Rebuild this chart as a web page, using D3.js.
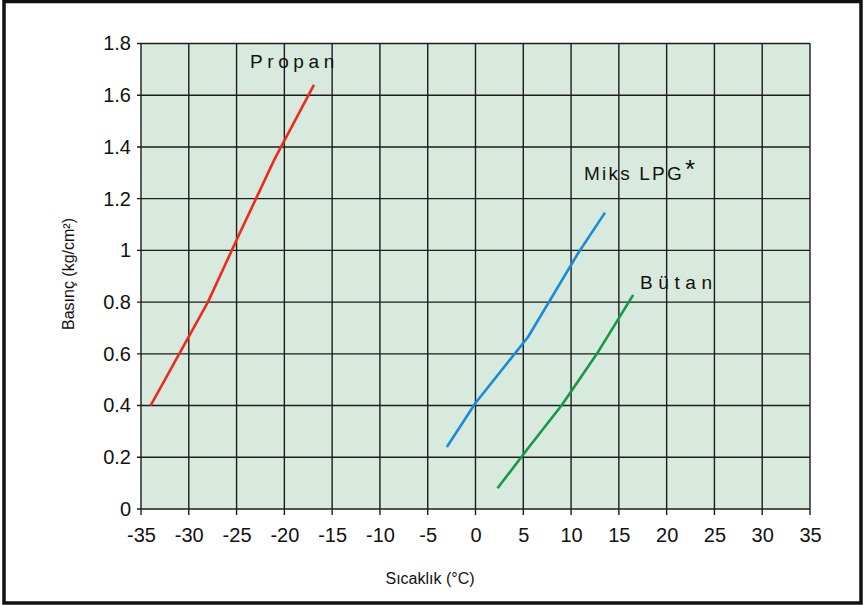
<!DOCTYPE html>
<html>
<head>
<meta charset="utf-8">
<script src="https://cdn.jsdelivr.net/npm/d3@7"></script>
<style>
  body { margin: 0; background: #fff; }
  text { font-family: "Liberation Sans", Arial, sans-serif; fill: #111; }
</style>
</head>
<body>
<script>
var width = 864,
    height = 605,
    margin = {top: 43.5, right: 54, bottom: 96, left: 141};

// tick values
var xTicks = [-35, -30, -25, -20, -15, -10, -5, 0, 5, 10, 15, 20, 25, 30, 35];
var yTicks = [0, 0.2, 0.4, 0.6, 0.8, 1, 1.2, 1.4, 1.6, 1.8];

// series (temperature °C, pressure kg/cm2)
var propan = [[-34, 0.40], [-28, 0.80], [-25, 1.04], [-21, 1.355], [-16.9, 1.64]];
var miksLpg = [[-3, 0.24], [0, 0.41], [5.5, 0.665], [10.75, 0.99], [13.55, 1.146]];
var butan = [[2.3, 0.08], [5.5, 0.235], [9, 0.40], [12.7, 0.60], [16.5, 0.828]];

var svg = d3.select('body')
    .append('svg')
    .attr('width', width)
    .attr('height', height)

// outer frame
svg.append('rect')
    .attr('x', 4).attr('y', 1.5)
    .attr('width', 857).attr('height', 601.5)
    .attr('fill', 'none')
    .attr('stroke', '#111')
    .attr('stroke-width', 3.5);

var x = d3.scaleLinear().domain([-35, 35]).range([margin.left, width - margin.right]);
var y = d3.scaleLinear().domain([0, 1.8]).range([height - margin.bottom, margin.top]);

svg.append('rect')
    .attr('x', x(-35)).attr('y', y(1.8))
    .attr('width', x(35) - x(-35))
    .attr('height', y(0) - y(1.8))
    .attr('fill', '#d8eadd');

// grid
var grid = svg.append('g').attr('stroke', '#1c1c1c').attr('stroke-width', 1.4);
grid.selectAll('.vx').data(xTicks).enter().append('line')
    .attr('x1', d => x(d)).attr('x2', d => x(d))
    .attr('y1', y(1.8)).attr('y2', y(0) + 6);
grid.selectAll('.hy').data(yTicks).enter().append('line')
    .attr('x1', x(-35) - 4).attr('x2', x(35))
    .attr('y1', d => y(d)).attr('y2', d => y(d));

// axes labels via d3 axes (lines hidden, grid already drawn)
var xAxis = svg.append('g')
    .attr('transform', 'translate(0,' + y(0) + ')')
    .call(d3.axisBottom(x).tickValues(xTicks).tickSize(0).tickPadding(19).tickFormat(d => String(d)));
var yAxis = svg.append('g')
    .attr('transform', 'translate(' + x(-35) + ',0)')
    .call(d3.axisLeft(y).tickValues(yTicks).tickSize(0).tickPadding(10).tickFormat(d => String(d)));
[xAxis, yAxis].forEach(function (a) {
    a.select('.domain').remove();
    a.selectAll('text')
        .style('font-family', '"Liberation Sans", Arial, sans-serif')
        .style('font-size', '20px')
        .attr('fill', '#1a1a1a');
});

// series lines
var line = d3.line()
    .x(d => x(d[0]))
    .y(d => y(d[1]));

[[propan, '#ee2a1f'], [miksLpg, '#1b8bd8'], [butan, '#16984a']].forEach(function (s) {
    svg.append('path')
        .datum(s[0])
        .attr('d', line)
        .attr('fill', 'none')
        .attr('stroke', s[1])
        .attr('stroke-width', 2.6)
        .attr('stroke-linejoin', 'round');
});

// series labels
svg.append('text').attr('x', 250).attr('y', 68)
    .style('font-size', '19px').style('letter-spacing', '4.6px')
    .text('Propan');
var miks = svg.append('text').attr('x', 584).attr('y', 179.5)
    .style('font-size', '19px').style('letter-spacing', '2.2px');
miks.append('tspan').text('Miks LPG');
miks.append('tspan').attr('dy', -2).attr('dx', 1).style('font-size', '26px').text('*');
svg.append('text').attr('x', 640).attr('y', 288.5)
    .style('font-size', '19px').style('letter-spacing', '5.6px')
    .text('Bütan');

// axis titles
svg.append('text')
    .attr('x', 430).attr('y', 584)
    .attr('text-anchor', 'middle')
    .style('font-size', '16px')
    .text('Sıcaklık (°C)');
svg.append('text')
    .attr('transform', 'translate(74,274) rotate(-90)')
    .attr('text-anchor', 'middle')
    .style('font-size', '16px')
    .text('Basınç  (kg/cm²)');
</script>
</body>
</html>
